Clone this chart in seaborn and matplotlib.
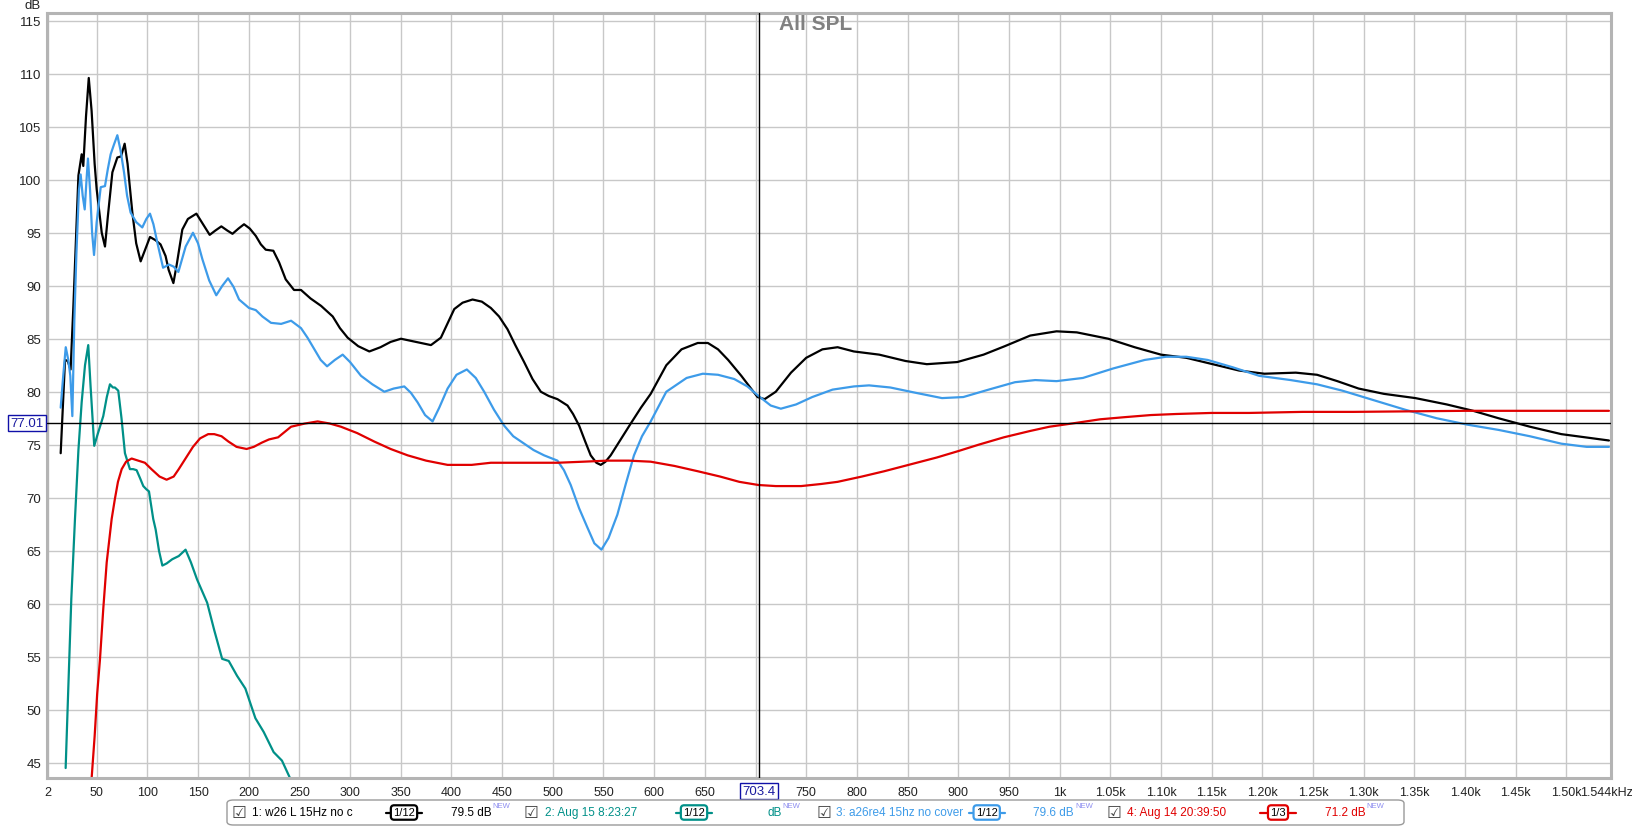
import pandas as pd
import matplotlib.pyplot as plt
import seaborn as sns
from matplotlib.lines import Line2D
from matplotlib.patches import FancyBboxPatch
from matplotlib.transforms import ScaledTranslation

sns.set_style("white")
plt.rcParams.update(
    {
        "font.family": ["Liberation Sans", "DejaVu Sans"],
        "font.size": 9.5,
    }
)

# 1: w26 L 15Hz no c
hz_w26 = [14.5, 18.8, 21.4, 24.3, 27.0, 30.3, 32.0, 35.2, 36.8, 39.5, 42.2, 45.0, 48.0, 50.0,
          52.3, 55.0, 58.2, 61.0, 65.5, 70.4, 74.0, 77.6, 80.5, 85.2, 89.0, 93.4, 97.0, 102.6,
          108.0, 113.0, 118.0, 121.0, 125.7, 129.0, 134.5, 140.0, 148.4, 155.0, 161.5, 167.0,
          173.0, 179.0, 184.0, 190.0, 195.4, 201.0, 207.0, 212.0, 216.8, 224.3, 230.0, 236.5,
          244.7, 251.6, 261.0, 271.4, 282.9, 290.0, 297.6, 308.0, 319.0, 330.0, 340.0, 350.2,
          365.0, 379.8, 389.6, 402.8, 411.0, 420.8, 430.0, 438.9, 447.0, 455.3, 463.0, 471.7,
          480.0, 488.2, 496.0, 504.6, 514.5, 520.0, 526.0, 532.0, 537.4, 543.0, 547.3, 552.0,
          557.1, 567.0, 576.9, 587.0, 596.6, 612, 627, 643, 653, 663, 673, 686, 702, 709, 720,
          735, 750, 766, 781, 797, 822, 848, 869, 899, 925, 946, 971, 997, 1017, 1048, 1074,
          1100, 1125, 1151, 1177, 1202, 1233, 1254, 1274, 1295, 1320, 1351, 1382, 1408, 1433,
          1464, 1495, 1542]
db_w26 = [74.2, 83.0, 82.9, 82.1, 88.0, 96.3, 100.4, 102.4, 101.3, 106.0, 109.6, 106.5, 101.5, 99.1,
          97.2, 95.0, 93.7, 96.5, 100.7, 102.1, 102.2, 103.4, 101.5, 96.9, 94.0, 92.3, 93.2, 94.6,
          94.3, 93.9, 92.8, 91.5, 90.25, 92.0, 95.3, 96.3, 96.8, 95.8, 94.8, 95.2,
          95.6, 95.2, 94.9, 95.4, 95.8, 95.4, 94.7, 93.9, 93.4, 93.3, 92.2, 90.6,
          89.6, 89.6, 88.8, 88.1, 87.1, 86.0, 85.1, 84.3, 83.8, 84.2, 84.7, 85.0,
          84.7, 84.4, 85.1, 87.8, 88.4, 88.7, 88.5, 87.9, 87.1, 85.9, 84.4, 82.8,
          81.2, 80.0, 79.6, 79.3, 78.7, 77.9, 76.8, 75.3, 74.0, 73.3, 73.1, 73.4,
          74.0, 75.5, 77.0, 78.5, 79.8, 82.5, 84.0, 84.6, 84.6, 84.0, 83.0, 81.5, 79.5, 79.3, 80.0,
          81.8, 83.2, 84.0, 84.2, 83.8, 83.5, 82.9, 82.6, 82.8, 83.5, 84.3, 85.3, 85.7, 85.6, 85.0, 84.2,
          83.5, 83.2, 82.6, 82.0, 81.7, 81.8, 81.6, 81.0, 80.3, 79.8, 79.4, 78.8, 78.2, 77.5,
          76.7, 76.0, 75.4]

# 2: Aug 15 8:23:27
hz_aug15 = [19.4, 22.0, 25.0, 28.6, 32.0, 35.2, 38.5, 41.7, 44.0, 47.6, 51.0, 56.5, 60.0, 63.1,
            66.0, 68.0, 71.3, 74.5, 77.9, 82.8, 86.0, 89.4, 93.0, 96.0, 99.0, 101.6, 105.8, 108.2,
            111.5, 114.8, 119.0, 124.6, 131.0, 137.7, 143.0, 149.0, 159.0, 166.0, 173.8, 180.3,
            188.5, 196.7, 206.6, 214.8, 224.6, 232.8, 241.0]
db_aug15 = [44.5, 52.0, 60.5, 68.0, 74.5, 79.0, 82.5, 84.4, 80.5, 74.9, 76.0, 77.7, 79.5, 80.7,
            80.4, 80.4, 80.1, 77.5, 74.2, 72.7, 72.7, 72.6, 71.8, 71.1, 70.8, 70.6, 68.0, 67.0,
            65.0, 63.6, 63.8, 64.2, 64.5, 65.1, 63.9, 62.3, 60.1, 57.5, 54.8, 54.6,
            53.2, 52.0, 49.2, 47.9, 46.0, 45.2, 43.5]

# 3: a26re4 15hz no cover
hz_a26 = [14.5, 17.0, 19.5, 22.0, 24.0, 26.0, 28.0, 30.0, 32.5, 34.2, 36.2, 38.2, 40.0, 41.4,
          43.5, 45.5, 47.4, 50.0, 54.0, 58.2, 61.0, 63.8, 67.0, 70.4, 73.5, 77.0, 80.0, 83.5,
          89.0, 95.0, 99.0, 102.6, 106.0, 110.0, 115.5, 121.4, 126.0, 130.6, 137.8, 145.0,
          150.0, 154.3, 161.0, 168.0, 174.0, 179.6, 185.0, 190.5, 200.3, 207.0, 213.5, 222.0,
          232.0, 241.8, 251.6, 258.0, 264.8, 271.0, 277.3, 285.0, 292.7, 300.0, 310.8, 322.0,
          333.8, 343.0, 353.5, 360.0, 366.6, 374.0, 381.4, 388.0, 396.2, 405.0, 415.2, 424.0,
          432.3, 442.0, 452.0, 461.0, 471.7, 481.0, 491.4, 504.6, 511.0, 517.7, 526.0, 534.1,
          541.0, 548.0, 555.0, 563.7, 572.0, 580.1, 588.0, 596.6, 612, 632, 648, 663, 679, 692,
          703, 715, 725, 740, 756, 776, 797, 812, 833, 858, 884, 905, 930, 956, 976, 997, 1023,
          1053, 1084, 1105, 1125, 1146, 1171, 1197, 1228, 1254, 1279, 1310, 1341, 1372, 1402,
          1433, 1464, 1495, 1520, 1542]
db_a26 = [78.5, 81.5, 84.2, 83.0, 81.5, 77.7, 86.8, 93.0, 99.0, 100.5, 98.5, 97.2, 100.0, 102.0,
          99.0, 95.0, 92.9, 96.0, 99.3, 99.4, 101.0, 102.4, 103.3, 104.2, 102.8, 100.7, 98.5, 96.9,
          96.0, 95.5, 96.3, 96.8, 95.8, 94.0, 91.7, 92.0, 91.8, 91.3, 93.7, 95.0,
          94.0, 92.5, 90.5, 89.1, 90.0, 90.7, 89.9, 88.7, 87.9, 87.7, 87.1, 86.5,
          86.4, 86.7, 86.0, 85.1, 84.0, 83.0, 82.4, 83.0, 83.5, 82.8, 81.5, 80.7,
          80.0, 80.3, 80.5, 79.9, 79.0, 77.8, 77.2, 78.5, 80.3, 81.6, 82.1, 81.3,
          80.0, 78.3, 76.8, 75.8, 75.1, 74.5, 74.0, 73.5, 72.6, 71.2, 69.0, 67.2,
          65.7, 65.1, 66.2, 68.4, 71.3, 74.0, 75.8, 77.2, 80.0, 81.3, 81.7, 81.6, 81.2, 80.5,
          79.6, 78.7, 78.4, 78.8, 79.5, 80.2, 80.5, 80.6, 80.4, 79.9, 79.4, 79.5, 80.2, 80.9, 81.1, 81.0, 81.3,
          82.2, 83.0, 83.3, 83.3, 83.0, 82.3, 81.5, 81.1, 80.7, 80.1, 79.2, 78.3, 77.5, 76.9,
          76.4, 75.8, 75.1, 74.8, 74.8]

# 4: Aug 14 20:39:50
hz_aug14 = [45, 48, 50.5, 53.3, 56.5, 59.9, 64.8, 68.0, 71.0, 74.7, 79.0, 84.5, 91.0, 97.6, 104,
            112, 119, 126, 131, 137, 145, 152, 160, 166, 173.2, 180, 188, 197.9, 205, 213, 220,
            229, 241.8, 255.4, 268, 280, 291, 307, 323.9, 340, 356.8, 375, 396.2, 420, 438.9,
            470, 504.6, 530, 553.9, 575, 596.6, 620, 643, 665, 684, 703, 720, 745, 765, 781, 805,
            827, 855, 879, 900, 920, 945, 971, 990, 1012, 1040, 1064, 1090, 1115, 1150, 1187,
            1240, 1290, 1400, 1542]
db_aug14 = [43.5, 47.5, 51.5, 54.8, 59.5, 63.9, 68.0, 69.9, 71.5, 72.7, 73.4, 73.7, 73.5, 73.3, 72.7,
            72.0, 71.7, 72.0, 72.7, 73.6, 74.8, 75.6, 76.0, 76.0, 75.8, 75.3, 74.8, 74.6, 74.8, 75.2, 75.5,
            75.7, 76.7, 77.0, 77.2, 77.0, 76.7, 76.1, 75.3, 74.6, 74.0, 73.5, 73.1, 73.1, 73.3,
            73.3, 73.3, 73.4, 73.5, 73.5, 73.4, 73.0, 72.5, 72.0, 71.5, 71.2, 71.1, 71.1, 71.3, 71.5, 72.0,
            72.5, 73.2, 73.8, 74.4, 75.0, 75.7, 76.3, 76.7, 77.0, 77.4, 77.6, 77.8, 77.9, 78.0, 78.0,
            78.1, 78.1, 78.2, 78.2]

series_names = ["1: w26 L 15Hz no c", "2: Aug 15 8:23:27", "3: a26re4 15hz no cover", "4: Aug 14 20:39:50"]
series_colors = ["#000000", "#009088", "#3d9be9", "#e00000"]
smoothing = ["1/12", "1/12", "1/12", "1/3"]
cursor_values = ["79.5 dB", "dB", "79.6 dB", "71.2 dB"]

cursor_hz = 703.4
cursor_db = 77.01

W, H = 1633, 828


def fx(x):
    return x / W


def fy(y):
    return 1 - y / H


def main():
    frames = []
    for name, hz, db in zip(series_names, [hz_w26, hz_aug15, hz_a26, hz_aug14],
                            [db_w26, db_aug15, db_a26, db_aug14]):
        frames.append(pd.DataFrame({"hz": hz, "db": db, "series": name}))
    df = pd.concat(frames, ignore_index=True)

    fig = plt.figure(figsize=(W / 100, H / 100), dpi=100)
    ax = fig.add_axes([fx(47), fy(779), (1611 - 47) / W, (779 - 14) / H])

    sns.lineplot(
        data=df, x="hz", y="db", hue="series", hue_order=series_names,
        palette=dict(zip(series_names, series_colors)), estimator=None, sort=False,
        linewidth=1.6, legend=False, ax=ax,
    )

    ax.set_xlim(1.0, 1543.5)
    ax.set_ylim(43.56, 115.73)

    xt = [2] + list(range(50, 1501, 50)) + [1544]
    xl = []
    for v in xt:
        if v == 1544:
            xl.append("1.544kHz")
        elif v == 700:
            xl.append("")
        elif v < 1000:
            xl.append(str(v))
        elif v == 1000:
            xl.append("1k")
        else:
            xl.append(f"{v / 1000:.2f}k")
    ax.set_xticks(xt)
    ax.set_xticklabels(xl)
    ax.set_yticks(range(45, 116, 5))
    ax.tick_params(axis="both", length=0, colors="#222222")
    ax.tick_params(axis="x", pad=6, labelsize=9)
    ax.tick_params(axis="y", pad=4, labelsize=9.5)
    ax.set_xlabel("")
    ax.set_ylabel("")

    # last frequency label sits against the right edge of the picture
    last = ax.get_xticklabels()[-1]
    last.set_transform(last.get_transform() + ScaledTranslation(-4 / 100, 0, fig.dpi_scale_trans))

    ax.grid(True, color="#c8c8c8", linewidth=1.0)
    for s in ax.spines.values():
        s.set_color("#b4b4b4")
        s.set_linewidth(2.2)

    # cursor crosshair
    ax.axvline(cursor_hz, color="black", linewidth=1.0, zorder=5)
    ax.axhline(cursor_db, color="black", linewidth=1.0, zorder=5)
    box = dict(boxstyle="square,pad=0.15", facecolor="white", edgecolor="#1010a8", linewidth=1)
    ax.text(cursor_hz, -0.017, f"{cursor_hz}", transform=ax.get_xaxis_transform(),
            ha="center", va="center", fontsize=9.5, color="#1a1aa0", bbox=box, clip_on=False)
    ax.text(-0.0128, cursor_db, f"{cursor_db:.2f}", transform=ax.get_yaxis_transform(),
            ha="center", va="center", fontsize=9.5, color="#1a1aa0", bbox=box, clip_on=False)

    fig.text(fx(33), fy(6), "dB", ha="center", va="center", fontsize=9.5, color="#222222")
    fig.text(fx(816), fy(25), "All SPL", ha="center", va="center", fontsize=15,
             fontweight="bold", color="#808080")

    # legend strip below the plot
    fig.add_artist(FancyBboxPatch((fx(227), fy(826)), fx(1404) - fx(227), fy(801) - fy(826),
                                  boxstyle="round,pad=0,rounding_size=0.004",
                                  facecolor="white", edgecolor="#9a9a9a", linewidth=1,
                                  transform=fig.transFigure))
    check_x = [238.6, 531.4, 824, 1114]
    label_x = [251.7, 545, 835.6, 1127]
    swatch_x = [404, 694, 986.7, 1278]
    value_x = [451, 767.5, 1033.5, 1325]
    ly = fy(813.5)
    value_texts = []
    for i in range(4):
        col = series_colors[i]
        fig.text(fx(check_x[i]), ly, "\u2611", ha="center", va="center", fontsize=12,
                 color="#444444", family="DejaVu Sans")
        fig.text(fx(label_x[i]), ly, series_names[i], ha="left", va="center", fontsize=8.5,
                 color=col)
        fig.add_artist(Line2D([fx(swatch_x[i] - 18), fx(swatch_x[i] + 18)], [ly, ly],
                              color=col, linewidth=1.6, transform=fig.transFigure))
        fig.text(fx(swatch_x[i]), ly, smoothing[i], ha="center", va="center", fontsize=8,
                 color="black",
                 bbox=dict(boxstyle="round,pad=0.2,rounding_size=0.3", facecolor="white",
                           edgecolor=col, linewidth=1.6))
        value_texts.append(fig.text(fx(value_x[i]), ly, cursor_values[i], ha="left",
                                    va="center", fontsize=8.5, color=col))

    # "NEW" tags placed right after each value text
    fig.canvas.draw()
    renderer = fig.canvas.get_renderer()
    for t in value_texts:
        bb = t.get_window_extent(renderer)
        fig.text((bb.x1 + 1) / W, (bb.y1 - 3) / H, "NEW", ha="left", va="bottom",
                 fontsize=5.5, color="#8c8cf0")

    fig.savefig("out.png", dpi=100)
    plt.close(fig)


if __name__ == "__main__":
    main()
